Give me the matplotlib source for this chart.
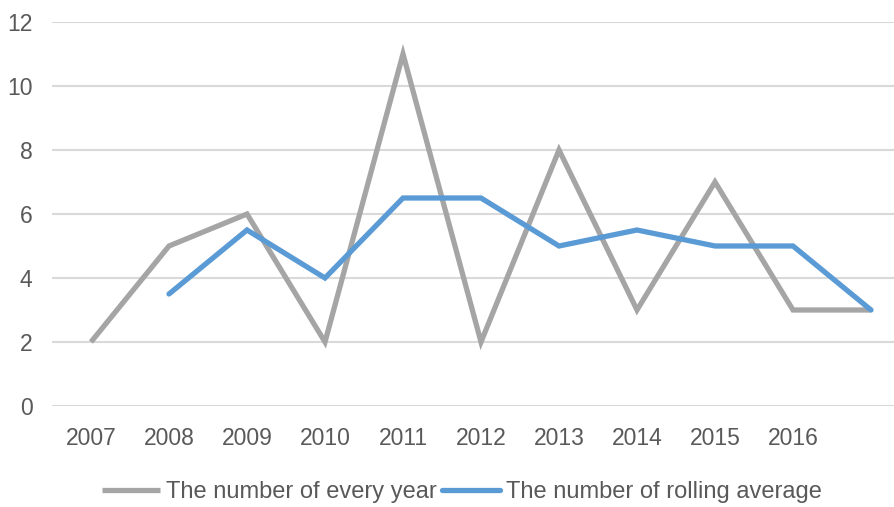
import matplotlib.pyplot as plt

plt.rcParams['font.family'] = ['Liberation Sans', 'DejaVu Sans']

years = ['2007', '2008', '2009', '2010', '2011', '2012', '2013', '2014', '2015', '2016', '']
every_year = [2, 5, 6, 2, 11, 2, 8, 3, 7, 3, 3]
rolling_avg = [None, 3.5, 5.5, 4, 6.5, 6.5, 5, 5.5, 5, 5, 3]
yticks = [0, 2, 4, 6, 8, 10, 12]

x = list(range(len(years)))
roll_x = [i for i, v in zip(x, rolling_avg) if v is not None]
roll_y = [v for v in rolling_avg if v is not None]

fig = plt.figure(figsize=(8.94, 5.07), dpi=100)
# category axis runs a little past the right edge of the figure
ax = fig.add_axes([52 / 894, 101 / 507, 858 / 894, 384 / 507])

ax.plot(x, every_year, color='#A5A5A5', lw=3.8, solid_joinstyle='miter',
        solid_capstyle='butt', label='The number of every year', zorder=3)
ax.plot(roll_x, roll_y, color='#5B9BD5', lw=3.8, solid_joinstyle='miter',
        solid_capstyle='round', label='The number of rolling average', zorder=4)

ax.set_xlim(-0.5, 10.5)
ax.set_ylim(0, 12)
ax.set_yticks(yticks)
ax.set_xticks(x)
ax.set_xticklabels(years)
ax.grid(axis='y', color='#D9D9D9', lw=1.5, zorder=0)
ax.set_axisbelow(True)
for s in ax.spines.values():
    s.set_visible(False)
ax.tick_params(axis='y', length=0, pad=14, labelsize=16.5, labelcolor='#595959')
ax.tick_params(axis='x', length=0, pad=15, labelsize=16.5, labelcolor='#595959')

fig.legend(loc='center', bbox_to_anchor=(462 / 894, 15 / 507), ncol=2, frameon=False,
           fontsize=17, labelcolor='#595959', handlelength=2.46,
           handletextpad=0.25, columnspacing=0.25)

fig.savefig('out.png', dpi=100)
